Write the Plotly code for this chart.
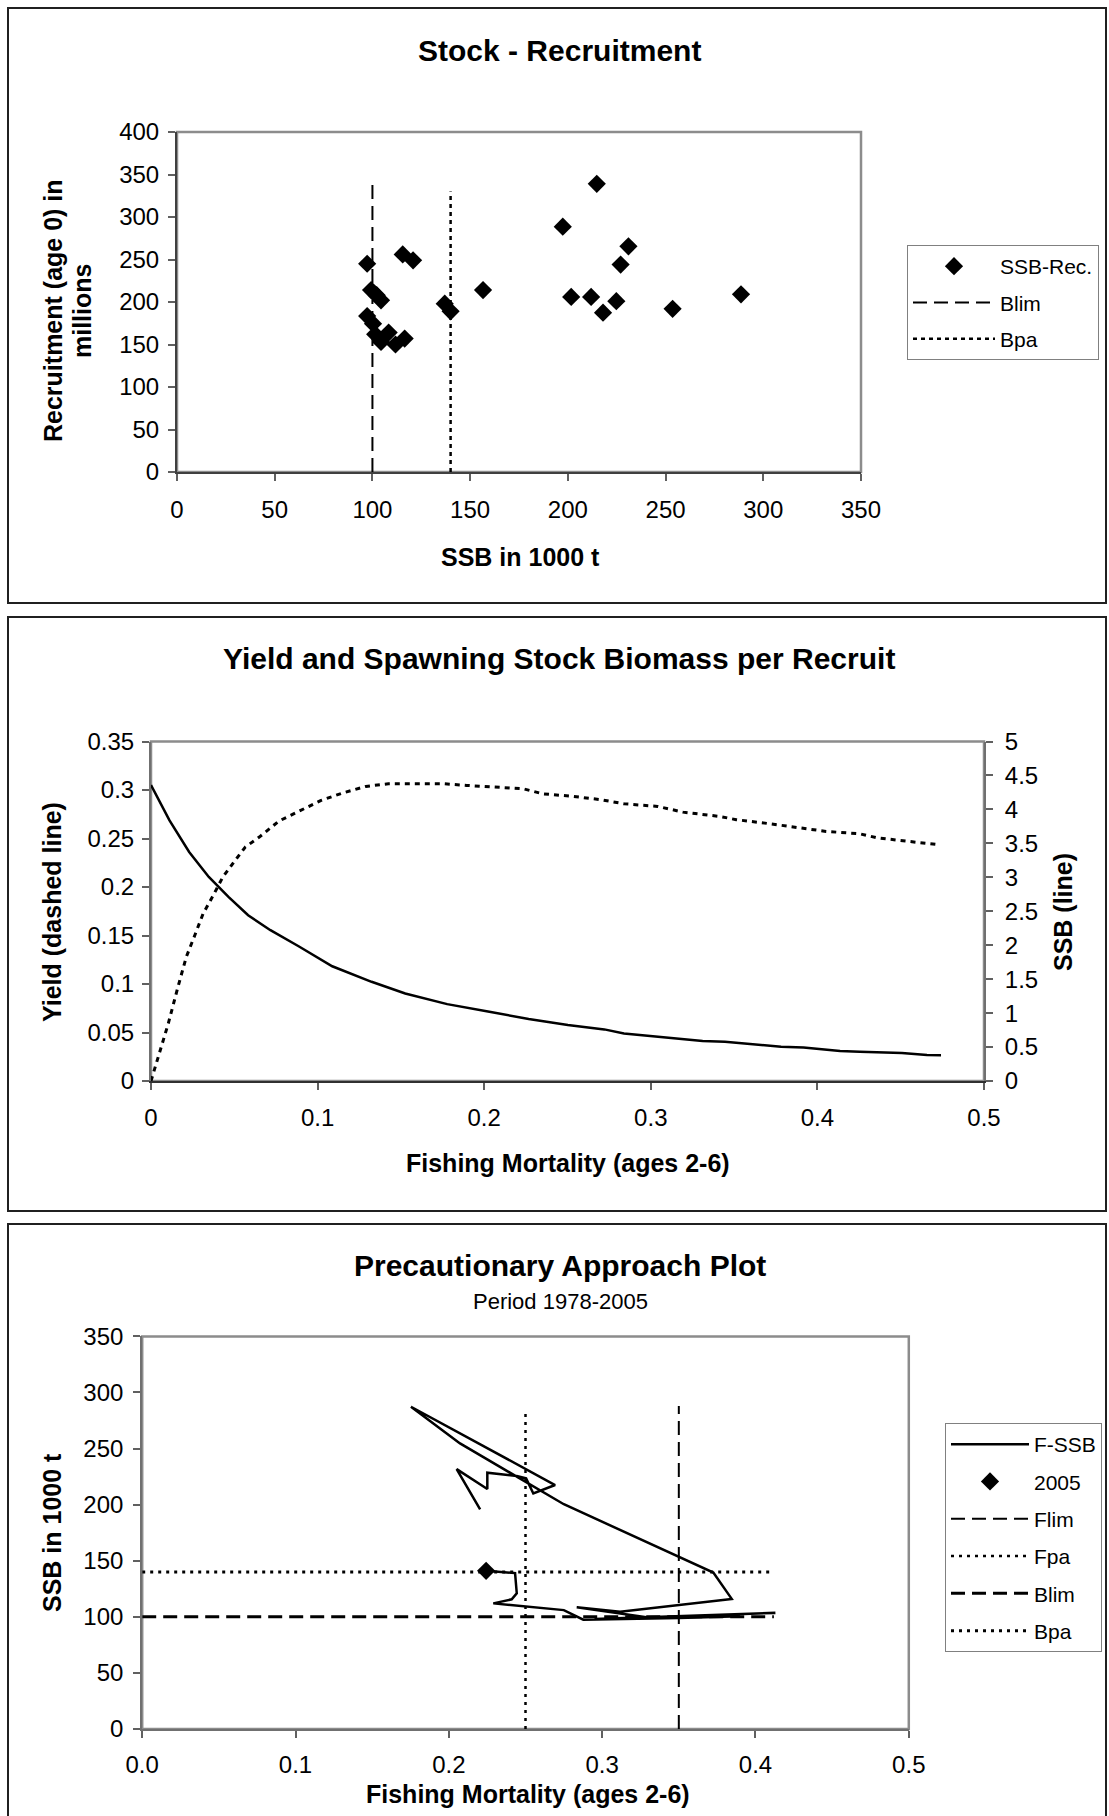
import plotly.graph_objects as go

W, H = 1109, 1816
FONT = "Liberation Sans, Arial, sans-serif"

# ---------------- Panel 1: Stock - Recruitment ----------------
sr_ssb = [97.3, 115.5, 120.8, 99.3, 102.2, 104.4, 97.3, 100.3, 101.4, 104.4, 108.3,
          111.8, 116.5, 137.0, 140.0, 156.6, 197.4, 214.8, 231.0, 227.0, 201.7,
          211.9, 224.8, 218.0, 253.6, 288.6]
sr_rec = [245, 256, 249, 214, 208, 202, 183.5, 174.5, 162, 153, 164,
          150, 157, 198, 189, 214, 288.6, 339, 265.5, 244, 206,
          206, 201, 187.5, 192, 209]
sr_blim_x = [100, 100]
sr_blim_y = [0, 340]
sr_bpa_x = [140, 140]
sr_bpa_y = [0, 330]

# ---------------- Panel 2: Yield and SSB per recruit ----------------
yield_f = [0, 0.006, 0.0104, 0.0162, 0.0212, 0.0263, 0.0313, 0.0374, 0.0431, 0.0498,
           0.0566, 0.065, 0.0768, 0.0886, 0.1021, 0.1155, 0.129, 0.1425, 0.1559,
           0.1762, 0.1896, 0.2098, 0.2233, 0.2351, 0.2536, 0.2705, 0.2839, 0.3041,
           0.3193, 0.3412, 0.3513, 0.3715, 0.3883, 0.4052, 0.4254, 0.4355, 0.449, 0.4708]
yield_val = [0, 0.0353, 0.0594, 0.0971, 0.128, 0.1503, 0.1726, 0.1915, 0.2103, 0.2258,
             0.2412, 0.2515, 0.268, 0.2779, 0.2893, 0.2972, 0.3037, 0.3064, 0.3064,
             0.3064, 0.3047, 0.303, 0.3013, 0.2961, 0.2934, 0.2899, 0.2858, 0.2831,
             0.2772, 0.2728, 0.2694, 0.2652, 0.2611, 0.2573, 0.2549, 0.2508, 0.2481, 0.244]
ssbpr_f = [0, 0.0111, 0.0229, 0.0347, 0.0465, 0.0583, 0.0717, 0.0886, 0.1088, 0.1324,
           0.1526, 0.1778, 0.2031, 0.2267, 0.2502, 0.2721, 0.2839, 0.3041, 0.3311,
           0.3445, 0.3782, 0.3917, 0.4136, 0.4254, 0.4507, 0.4658, 0.4742]
ssbpr_val = [4.36, 3.838, 3.373, 3.005, 2.711, 2.441, 2.221, 1.985, 1.69, 1.461,
             1.289, 1.132, 1.020, 0.912, 0.824, 0.760, 0.701, 0.652, 0.588,
             0.578, 0.505, 0.495, 0.441, 0.431, 0.412, 0.382, 0.380]

# ---------------- Panel 3: Precautionary approach plot ----------------
pa_years = list(range(1978, 2006))
pa_f = [0.2204, 0.2051, 0.2251, 0.2251, 0.2443, 0.2504, 0.2551, 0.2693, 0.1753, 0.2073,
        0.2750, 0.3470, 0.3725, 0.3845, 0.3117, 0.2834, 0.3300, 0.4130, 0.2950, 0.3900,
        0.3500, 0.2877, 0.2750, 0.2290, 0.2410, 0.2443, 0.2432, 0.2243]
pa_ssb = [195.8, 231.7, 213.9, 228.5, 225.5, 223.4, 210.0, 217.5, 287.3, 254.6,
          200.4, 155.5, 139.5, 116.0, 104.6, 108.5, 99.5, 103.5, 98.0, 100.5,
          99.0, 97.5, 106.0, 112.0, 115.6, 121.0, 139.0, 141.0]
pa_flim_x = [0.35, 0.35]
pa_flim_y = [0, 288]
pa_fpa_x = [0.25, 0.25]
pa_fpa_y = [0, 283]
pa_blim_x = [0, 0.412]
pa_blim_y = [100, 100]
pa_bpa_x = [0, 0.41]
pa_bpa_y = [140, 140]


def xp(px):
    return px / W


def yp(py):
    return 1 - py / H


fig = go.Figure()

# Panel 1 traces
fig.add_trace(go.Scatter(x=sr_ssb, y=sr_rec, mode="markers", name="SSB-Rec.",
                         marker=dict(symbol="diamond", size=14, color="black"),
                         xaxis="x", yaxis="y", legend="legend", legendgroup="a1"))
fig.add_trace(go.Scatter(x=sr_blim_x, y=sr_blim_y, mode="lines", name="Blim",
                         line=dict(color="black", width=2, dash="14px,7px"),
                         xaxis="x", yaxis="y", legend="legend", legendgroup="a2"))
fig.add_trace(go.Scatter(x=sr_bpa_x, y=sr_bpa_y, mode="lines", name="Bpa",
                         line=dict(color="black", width=2.5, dash="4px,4px"),
                         xaxis="x", yaxis="y", legend="legend", legendgroup="a3"))

# Panel 2 traces
fig.add_trace(go.Scatter(x=yield_f, y=yield_val, mode="lines", name="Yield",
                         line=dict(color="black", width=3, dash="5px,5px"),
                         xaxis="x2", yaxis="y2", showlegend=False))
fig.add_trace(go.Scatter(x=ssbpr_f, y=ssbpr_val, mode="lines", name="SSB",
                         line=dict(color="black", width=2.5),
                         xaxis="x2", yaxis="y3", showlegend=False))

# Panel 3 traces
fig.add_trace(go.Scatter(x=pa_f, y=pa_ssb, mode="lines", name="F-SSB",
                         text=pa_years,
                         line=dict(color="black", width=2.5),
                         xaxis="x3", yaxis="y4", legend="legend2", legendgroup="b1"))
fig.add_trace(go.Scatter(x=[pa_f[-1]], y=[pa_ssb[-1]], mode="markers", name=str(pa_years[-1]),
                         marker=dict(symbol="diamond", size=14, color="black"),
                         xaxis="x3", yaxis="y4", legend="legend2", legendgroup="b2"))
fig.add_trace(go.Scatter(x=pa_flim_x, y=pa_flim_y, mode="lines", name="Flim",
                         line=dict(color="black", width=2, dash="14px,7px"),
                         xaxis="x3", yaxis="y4", legend="legend2", legendgroup="b3"))
fig.add_trace(go.Scatter(x=pa_fpa_x, y=pa_fpa_y, mode="lines", name="Fpa",
                         line=dict(color="black", width=2.5, dash="3px,5px"),
                         xaxis="x3", yaxis="y4", legend="legend2", legendgroup="b4"))
fig.add_trace(go.Scatter(x=pa_blim_x, y=pa_blim_y, mode="lines", name="Blim",
                         line=dict(color="black", width=3, dash="14px,7px"),
                         xaxis="x3", yaxis="y4", legend="legend2", legendgroup="b5"))
fig.add_trace(go.Scatter(x=pa_bpa_x, y=pa_bpa_y, mode="lines", name="Bpa",
                         line=dict(color="black", width=3, dash="3px,5px"),
                         xaxis="x3", yaxis="y4", legend="legend2", legendgroup="b6"))

TICKFONT = dict(family=FONT, size=24, color="black")


def axis(domain, rng, dtick, anchor, side=None, standoff=10, fmt=None, linecolor="#404040",
         overlaying=None):
    d = dict(domain=domain, range=rng, dtick=dtick, tick0=0, anchor=anchor,
             showgrid=False, zeroline=False, showline=True, linecolor=linecolor, linewidth=2,
             ticks="outside", ticklen=7, tickwidth=1.5, tickcolor="#606060",
             tickfont=TICKFONT, ticklabelstandoff=standoff, fixedrange=True,
             automargin=False)
    if side:
        d["side"] = side
    if fmt:
        d["tickformat"] = fmt
    if overlaying:
        d["overlaying"] = overlaying
    return d


LEGFONT = dict(family=FONT, size=21, color="black")

layout = dict(
    width=W, height=H, margin=dict(l=0, r=0, t=0, b=0, pad=0, autoexpand=False),
    paper_bgcolor="white", plot_bgcolor="white",
    font=dict(family=FONT, color="black"),
    xaxis=axis([xp(177), xp(861)], [0, 350], 50, "y", standoff=8),
    yaxis=axis([yp(472), yp(132)], [0, 400], 50, "x", standoff=4),
    xaxis2=axis([xp(151), xp(984)], [0, 0.5], 0.1, "y2", standoff=7, linecolor="#303030"),
    yaxis2=axis([yp(1081), yp(741.5)], [0, 0.35], 0.05, "x2", standoff=3, linecolor="#707070"),
    yaxis3=axis([yp(1081), yp(741.5)], [0, 5], 0.5, "x2", side="right", standoff=7,
                linecolor="#707070", overlaying="y2"),
    xaxis3=axis([xp(142.2), xp(908.8)], [0, 0.5], 0.1, "y4", standoff=6, fmt=".1f",
                linecolor="#707070"),
    yaxis4=axis([yp(1729), yp(1336.4)], [0, 350], 50, "x3", standoff=5, linecolor="#707070"),
    legend=dict(x=xp(907), y=yp(245), xanchor="left", yanchor="top",
                bordercolor="#808080", borderwidth=1, bgcolor="white",
                font=LEGFONT, itemwidth=82, tracegroupgap=6, traceorder="grouped"),
    legend2=dict(x=xp(945), y=yp(1423), xanchor="left", yanchor="top",
                 bordercolor="#808080", borderwidth=1, bgcolor="white",
                 font=LEGFONT, itemwidth=78, tracegroupgap=7, traceorder="grouped"),
    showlegend=True,
)
fig.update_layout(**layout)

# Panel frames (outer boxes)
for (t, b) in [(8, 603), (617, 1211), (1224, 1822)]:
    fig.add_shape(type="rect", xref="paper", yref="paper",
                  x0=xp(8), x1=xp(1106), y0=yp(b), y1=yp(t),
                  line=dict(color="#202020", width=2), layer="below")
# Plot-area frames (grey)
for xr, yr in [("x domain", "y domain"), ("x2 domain", "y2 domain"), ("x3 domain", "y4 domain")]:
    fig.add_shape(type="rect", xref=xr, yref=yr, x0=0, x1=1, y0=0, y1=1,
                  line=dict(color="#8c8c8c", width=2.5), layer="below")


def ann(text, x, y, size, bold=False, angle=0):
    fig.add_annotation(text=("<b>%s</b>" % text) if bold else text, x=xp(x), y=yp(y),
                       xref="paper", yref="paper", showarrow=False, textangle=angle,
                       xanchor="center", yanchor="middle",
                       font=dict(family=FONT, size=size, color="black"))


# Titles
ann("Stock - Recruitment", 559, 50, 30, bold=True)
ann("SSB in 1000 t", 520, 557, 25, bold=True)
ann("Recruitment (age 0) in", 53, 311, 25, bold=True, angle=-90)
ann("millions", 82, 311, 25, bold=True, angle=-90)

ann("Yield and Spawning Stock Biomass per Recruit", 559, 658, 30, bold=True)
ann("Fishing Mortality (ages 2-6)", 568, 1163, 25, bold=True)
ann("Yield (dashed line)", 52, 912, 25, bold=True, angle=-90)
ann("SSB (line)", 1063, 912, 25, bold=True, angle=-90)

ann("Precautionary Approach Plot", 560, 1265, 30, bold=True)
ann("Period 1978-2005", 560, 1301, 22)
ann("Fishing Mortality (ages 2-6)", 528, 1794, 25, bold=True)
ann("SSB in 1000 t", 52, 1533, 25, bold=True, angle=-90)

fig.write_html("out.html")
